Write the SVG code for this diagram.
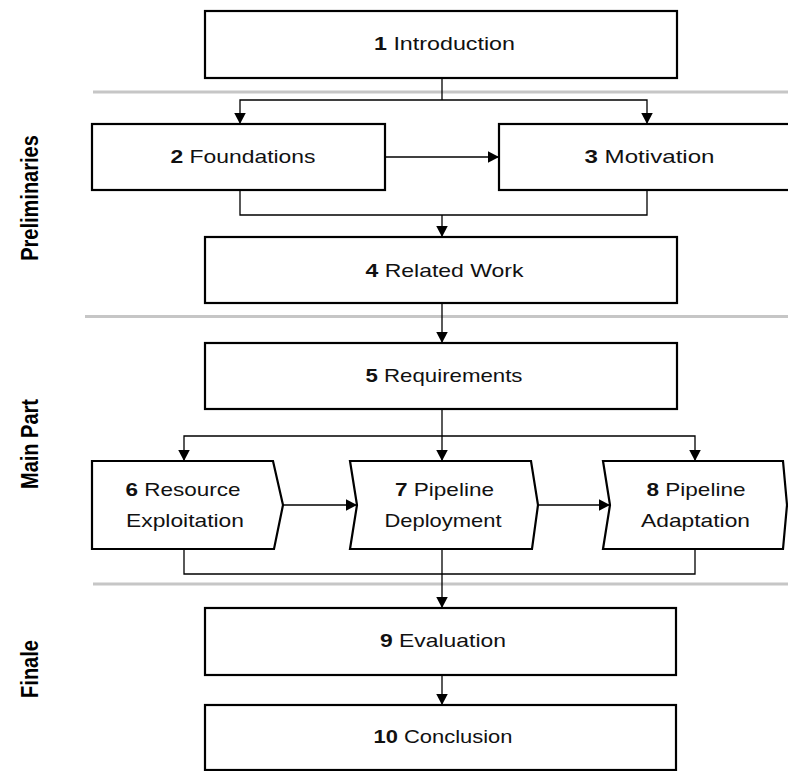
<svg xmlns="http://www.w3.org/2000/svg" width="788" height="771" viewBox="0 0 788 771">
  <style>
    .box { fill: #ffffff; stroke: #000000; stroke-width: 2.2; }
    .sep { stroke: #c6c6c6; stroke-width: 3; fill: none; }
    .conn { stroke: #000000; stroke-width: 1.3; fill: none; }
    .arr { marker-end: url(#head); }
    .lbl { font-family: "Liberation Sans", Arial, sans-serif; font-size: 19px; fill: #111111; text-anchor: middle; }
    .num { font-weight: bold; }
    .part { font-family: "Liberation Sans", Arial, sans-serif; font-size: 20px; font-weight: bold; fill: #000000; text-anchor: middle; }
  </style>
  <defs>
    <marker id="head" markerUnits="userSpaceOnUse" markerWidth="12" markerHeight="12" refX="11" refY="5.75" orient="auto">
      <path d="M0,0 L11,5.75 L0,11.5 z" fill="#000000"/>
    </marker>
  </defs>

  <rect width="788" height="771" fill="#ffffff"/>

  <!-- section separators -->
  <g id="separators">
    <line class="sep" x1="93" y1="92" x2="788" y2="92"/>
    <line class="sep" x1="85" y1="316.5" x2="788" y2="316.5"/>
    <line class="sep" x1="93" y1="584" x2="788" y2="584"/>
  </g>

  <!-- section titles -->
  <g id="section-labels">
    <text class="part" transform="translate(38,198) scale(1.22,1) rotate(-90)">Preliminaries</text>
    <text class="part" transform="translate(38,444) scale(1.22,1) rotate(-90)">Main Part</text>
    <text class="part" transform="translate(38,669) scale(1.22,1) rotate(-90)">Finale</text>
  </g>

  <!-- connectors -->
  <g id="connectors">
    <path class="conn" d="M442,78 V100"/>
    <path class="conn arr" d="M442,100 H240 V124"/>
    <path class="conn arr" d="M442,100 H647 V124"/>
    <path class="conn arr" d="M385,157 H499"/>
    <path class="conn" d="M240,190 V215 H647 V190"/>
    <path class="conn arr" d="M442,215 V237"/>
    <path class="conn arr" d="M442,303 V343"/>
    <path class="conn arr" d="M442,409 V461"/>
    <path class="conn arr" d="M442,436 H184 V461"/>
    <path class="conn arr" d="M442,436 H695 V461"/>
    <path class="conn arr" d="M283,505 H357"/>
    <path class="conn arr" d="M538,505 H610"/>
    <path class="conn" d="M184,549 V574 H695 V549"/>
    <path class="conn arr" d="M442,549 V608"/>
    <path class="conn arr" d="M442,675 V705"/>
  </g>

  <g id="n1">
    <rect class="box" x="205" y="11" width="472" height="67"/>
    <text class="lbl" x="444.5" y="50" textLength="141" lengthAdjust="spacingAndGlyphs"><tspan class="num">1</tspan> Introduction</text>
  </g>
  <g id="n2">
    <rect class="box" x="92" y="124" width="293" height="66"/>
    <text class="lbl" x="243" y="163" textLength="145" lengthAdjust="spacingAndGlyphs"><tspan class="num">2</tspan> Foundations</text>
  </g>
  <g id="n3">
    <rect class="box" x="499" y="124" width="300" height="66"/>
    <text class="lbl" x="649.5" y="163" textLength="130" lengthAdjust="spacingAndGlyphs"><tspan class="num">3</tspan> Motivation</text>
  </g>
  <g id="n4">
    <rect class="box" x="205" y="237" width="472" height="66"/>
    <text class="lbl" x="444.5" y="276.5" textLength="158" lengthAdjust="spacingAndGlyphs"><tspan class="num">4</tspan> Related Work</text>
  </g>
  <g id="n5">
    <rect class="box" x="205" y="343" width="472" height="66"/>
    <text class="lbl" x="444" y="382" textLength="157" lengthAdjust="spacingAndGlyphs"><tspan class="num">5</tspan> Requirements</text>
  </g>
  <g id="n6">
    <path class="box" d="M92,461 H273 L283,505 L274,549 H92 Z"/>
    <text class="lbl" x="183" y="496" textLength="115" lengthAdjust="spacingAndGlyphs"><tspan class="num">6</tspan> Resource</text>
    <text class="lbl" x="185" y="527" textLength="118" lengthAdjust="spacingAndGlyphs">Exploitation</text>
  </g>
  <g id="n7">
    <path class="box" d="M350,461 H531 L538,505 L532,549 H350 L357,505 Z"/>
    <text class="lbl" x="444.5" y="496" textLength="99" lengthAdjust="spacingAndGlyphs"><tspan class="num">7</tspan> Pipeline</text>
    <text class="lbl" x="443" y="527" textLength="117" lengthAdjust="spacingAndGlyphs">Deployment</text>
  </g>
  <g id="n8">
    <path class="box" d="M603,461 H783 L787,505 L783,549 H603 L610,505 Z"/>
    <text class="lbl" x="696" y="496" textLength="99" lengthAdjust="spacingAndGlyphs"><tspan class="num">8</tspan> Pipeline</text>
    <text class="lbl" x="695.5" y="527" textLength="109" lengthAdjust="spacingAndGlyphs">Adaptation</text>
  </g>
  <g id="n9">
    <rect class="box" x="205" y="608" width="471" height="67"/>
    <text class="lbl" x="443" y="647" textLength="126" lengthAdjust="spacingAndGlyphs"><tspan class="num">9</tspan> Evaluation</text>
  </g>
  <g id="n10">
    <rect class="box" x="205" y="705" width="471" height="65"/>
    <text class="lbl" x="443" y="743" textLength="139" lengthAdjust="spacingAndGlyphs"><tspan class="num">10</tspan> Conclusion</text>
  </g>
</svg>
